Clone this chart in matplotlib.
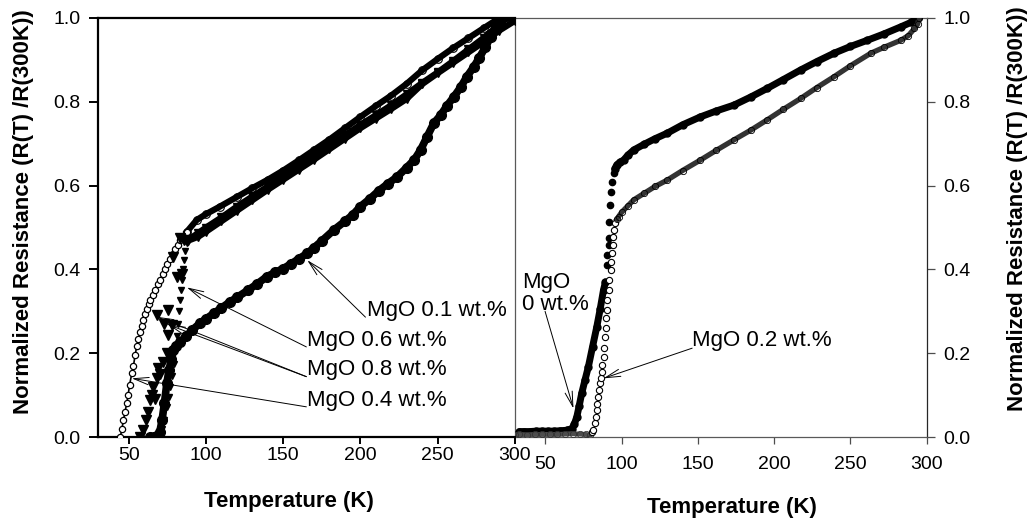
import numpy as np
import matplotlib
matplotlib.use('Agg')
import matplotlib.pyplot as plt

plt.rcParams['font.family'] = ['Liberation Sans', 'DejaVu Sans']

# ---- left panel ----
# MgO 0.4 wt.% (open circles)
t04_tr = [44.5, 45.5, 46.5, 47.5, 48.6, 49.5, 50.5, 51.9, 53, 54, 55.1, 56.2, 57.3, 58.4,
          59.4, 60.5, 61.7, 62.8, 63.8, 65.5, 67, 68.6, 70.2, 71.8, 73.5, 75, 76.7, 78.3,
          80, 81.6, 83.2, 85.4, 87.6]
r04_tr = [0.0, 0.02, 0.04, 0.06, 0.08, 0.1, 0.125, 0.152, 0.17, 0.195, 0.216, 0.233, 0.25,
          0.265, 0.279, 0.293, 0.306, 0.317, 0.327, 0.34, 0.352, 0.364, 0.375, 0.388, 0.40,
          0.413, 0.426, 0.437, 0.448, 0.459, 0.47, 0.48, 0.49]
t04_n = [87.6, 94, 100, 109, 120, 130, 140, 150, 160, 170, 180, 190, 200, 210, 220, 230,
         240, 250, 260, 270, 280, 288, 300]
r04_n = [0.49, 0.518, 0.532, 0.55, 0.573, 0.594, 0.614, 0.636, 0.66, 0.685, 0.71, 0.737,
         0.764, 0.79, 0.815, 0.843, 0.875, 0.902, 0.928, 0.952, 0.976, 0.995, 1.0]

# MgO 0.6 wt.% (small down triangles)
t06_tr = [66, 68, 69.5, 71.3, 73, 74.6, 75.7, 76.7, 77.8, 79, 80, 81, 82.1, 82.7, 83.2,
          83.8, 84.3, 84.9, 85.4, 86.5, 87.6, 89]
r06_tr = [0, 0.004, 0.01, 0.018, 0.04, 0.072, 0.095, 0.12, 0.145, 0.175, 0.208, 0.24, 0.27,
          0.3, 0.327, 0.35, 0.375, 0.4, 0.422, 0.445, 0.462, 0.472]
t06_n = [89, 95, 100, 110, 120, 130, 140, 150, 160, 170, 180, 190, 200, 210, 220, 230, 240,
         250, 260, 270, 280, 287, 293]
r06_n = [0.472, 0.487, 0.5, 0.524, 0.55, 0.574, 0.598, 0.622, 0.646, 0.67, 0.695, 0.72,
         0.745, 0.768, 0.792, 0.818, 0.845, 0.87, 0.897, 0.925, 0.953, 0.975, 1.0]

# MgO 0.8 wt.% (big down triangles)
t08_tr = [57, 59.4, 61, 62.5, 63.8, 65, 65.9, 67, 68, 69.1, 70, 72, 74.6, 73, 75.6, 77.8,
          75.6, 68.5, 81, 84.3, 78.9, 83.2, 86]
r08_tr = [0, 0.017, 0.04, 0.06, 0.088, 0.1, 0.12, 0.09, 0.14, 0.164, 0.15, 0.18, 0.2, 0.27,
          0.243, 0.267, 0.303, 0.29, 0.383, 0.39, 0.43, 0.474, 0.47]
t08_n = [88, 95, 100, 110, 120, 130, 140, 150, 160, 170, 180, 190, 200, 210, 220, 230, 240,
         250, 260, 270, 280, 290, 300]
r08_n = [0.468, 0.478, 0.49, 0.515, 0.54, 0.565, 0.59, 0.614, 0.638, 0.662, 0.687, 0.712,
         0.737, 0.76, 0.783, 0.807, 0.842, 0.868, 0.893, 0.918, 0.943, 0.97, 0.993]

# MgO 0.1 wt.% (big filled circles)
t01 = [64, 66, 68, 70, 71.5, 73, 74.6, 76, 77.5, 78.9, 80.5, 83.2, 87, 91, 96.2, 100, 105,
       110, 115.7, 120, 127, 133, 139.5, 145, 150, 155, 160, 165.5, 170, 175, 182.8, 190,
       195, 200, 206, 212, 218, 223.9, 230, 235, 239, 243, 247.6, 252, 256, 260.6, 265, 269,
       273.6, 277, 281, 284.4, 288, 290.9]
r01 = [0, 0.0, 0.003, 0.012, 0.04, 0.08, 0.128, 0.16, 0.185, 0.207, 0.218, 0.227, 0.24,
       0.255, 0.272, 0.282, 0.295, 0.308, 0.323, 0.333, 0.35, 0.365, 0.383, 0.393, 0.402,
       0.413, 0.425, 0.438, 0.452, 0.468, 0.494, 0.515, 0.53, 0.55, 0.568, 0.588, 0.605,
       0.621, 0.643, 0.662, 0.685, 0.715, 0.749, 0.768, 0.79, 0.812, 0.835, 0.86, 0.884,
       0.905, 0.93, 0.955, 0.978, 0.995]

# ---- right panel ----
# MgO 0 wt.% (filled circles)
t0_low = [33, 36, 40, 44, 48, 52, 56, 60, 64, 67.4, 69, 70.7, 72.3, 73.9, 76, 78.3, 81,
          83.8, 86, 88.2, 89.5]
r0_low = [0.013, 0.013, 0.013, 0.014, 0.014, 0.014, 0.014, 0.015, 0.016, 0.02, 0.03, 0.048,
          0.075, 0.104, 0.135, 0.168, 0.215, 0.263, 0.305, 0.351, 0.37]
t0_jump = [90.4, 90.8, 91.5, 92.1, 91.7, 92.6, 93.2, 93.7, 94.8]
r0_jump = [0.41, 0.434, 0.458, 0.474, 0.514, 0.554, 0.585, 0.609, 0.629]
t0_norm = [95.5, 97, 99, 101.4, 104, 108, 115, 122, 129.9, 140, 151.7, 162, 173.6, 185,
           195.5, 206, 217.4, 228, 239.3, 250, 261.2, 272, 283.1, 290, 294]
r0_norm = [0.64, 0.65, 0.656, 0.661, 0.672, 0.685, 0.699, 0.712, 0.725, 0.745, 0.764,
           0.778, 0.792, 0.812, 0.832, 0.853, 0.876, 0.896, 0.916, 0.932, 0.947, 0.962,
           0.979, 0.99, 1.0]

# MgO 0.2 wt.% (open circles)
t02_low = [30, 33, 38, 43, 48, 53, 58, 63, 68, 73, 77, 79.6]
r02_low = [0.005, 0.006, 0.005, 0.006, 0.006, 0.006, 0.006, 0.007, 0.008, 0.007, 0.006, 0.004]
t02_jump = [80.6, 81.6, 82.7, 83.3, 83.8, 84.2, 84.9, 85.5, 86.0, 86.4, 87.1, 87.5, 88.2,
            88.6, 89.3, 89.7, 89.9, 90.4, 90.8, 91.5, 92.1, 92.8, 93.3, 93.7, 94.1, 94.6,
            95.2, 96.0]
r02_jump = [0.011, 0.017, 0.033, 0.048, 0.064, 0.079, 0.096, 0.112, 0.128, 0.14, 0.156,
            0.172, 0.192, 0.212, 0.239, 0.259, 0.283, 0.303, 0.327, 0.351, 0.375, 0.399,
            0.418, 0.438, 0.458, 0.478, 0.494, 0.51]
t02_norm = [97, 98.1, 100, 104, 108, 115, 122, 129.9, 140, 151.7, 162, 173.6, 185, 195.5,
            206, 217.4, 228, 239.3, 250, 263.4, 272, 283.1, 288, 292, 294, 295]
r02_norm = [0.52, 0.526, 0.536, 0.551, 0.566, 0.582, 0.598, 0.613, 0.636, 0.661, 0.684,
            0.709, 0.733, 0.757, 0.782, 0.808, 0.834, 0.86, 0.886, 0.916, 0.93, 0.947,
            0.958, 0.975, 0.985, 1.0]

x_ticks = [50, 100, 150, 200, 250, 300]
y_ticks = [0.0, 0.2, 0.4, 0.6, 0.8, 1.0]
y_label = 'Normalized Resistance (R(T) /R(300K))'
x_label = 'Temperature (K)'


def arrow(ax, head, tail):
    ax.annotate('', xy=head, xytext=tail,
                arrowprops=dict(arrowstyle='->,head_length=0.9,head_width=0.22',
                                lw=0.7, color='black', shrinkA=0, shrinkB=0,
                                mutation_scale=12))


fig = plt.figure(figsize=(10.3, 5.23), dpi=100)
ax1 = fig.add_axes([98 / 1030, 86 / 523, 416.7 / 1030, 419 / 523])
ax2 = fig.add_axes([514.7 / 1030, 86 / 523, 412 / 1030, 419 / 523])

# left panel curves
ax1.plot(t01, r01, color='k', lw=5.5, solid_capstyle='round', zorder=3)
ax1.plot(t01, r01, ls='none', marker='o', ms=7, color='k', zorder=3)
ax1.plot(t04_n, r04_n, color='k', lw=4.5, zorder=3)
ax1.plot(t04_n, r04_n, ls='none', marker='o', ms=5.5, mfc='none', mec='k', mew=0.8, zorder=3)
ax1.plot(t06_n, r06_n, color='k', lw=4.5, zorder=3)
ax1.plot(t06_n, r06_n, ls='none', marker='v', ms=5.5, color='k', zorder=3)
ax1.plot(t08_n, r08_n, color='k', lw=4.5, zorder=3)
ax1.plot(t08_n, r08_n, ls='none', marker='v', ms=6, color='k', zorder=3)
ax1.plot(t04_tr, r04_tr, color='k', lw=1.2, zorder=4)
ax1.plot(t04_tr, r04_tr, ls='none', marker='o', ms=4.5, mfc='white', mec='k', mew=0.9, zorder=4)
ax1.plot(t06_tr, r06_tr, ls='none', marker='v', ms=4.5, color='k', zorder=4)
ax1.plot(t08_tr, r08_tr, ls='none', marker='v', ms=6.5, color='k', zorder=4)

# right panel curves
ax2.plot(t0_low, r0_low, color='k', lw=5, solid_capstyle='round', zorder=3)
ax2.plot(t0_low, r0_low, ls='none', marker='o', ms=5, color='k', zorder=3)
ax2.plot(t0_jump, r0_jump, ls='none', marker='o', ms=4.5, color='k', zorder=3)
ax2.plot(t0_norm, r0_norm, color='k', lw=5, solid_capstyle='round', zorder=3)
ax2.plot(t0_norm, r0_norm, ls='none', marker='o', ms=5, color='k', zorder=3)
ax2.plot(t02_low, r02_low, color='0.3', lw=3.5, zorder=4)
ax2.plot(t02_low, r02_low, ls='none', marker='o', ms=4.5, mfc='none', mec='0.2', mew=0.6, zorder=4)
ax2.plot(t02_jump, r02_jump, ls='none', marker='o', ms=4.5, mfc='white', mec='k', mew=0.8, zorder=4)
ax2.plot(t02_norm, r02_norm, color='0.2', lw=3.8, zorder=4)
ax2.plot(t02_norm, r02_norm, ls='none', marker='o', ms=4.5, mfc='none', mec='k', mew=0.6, zorder=4)

for ax in (ax1, ax2):
    ax.set_xlim(30, 300)
    ax.set_ylim(0, 1.0)
    ax.set_xticks(x_ticks)
    ax.set_yticks(y_ticks)
    ax.set_yticklabels(['%.1f' % v for v in y_ticks])
    ax.tick_params(labelsize=14)
    for sp in ax.spines.values():
        sp.set_clip_on(False)

# left panel frame
for s in ('left', 'bottom', 'top'):
    ax1.spines[s].set_linewidth(1.6)
    ax1.spines[s].set_color('black')
ax1.spines['right'].set_visible(False)
ax1.tick_params(axis='x', direction='out', length=5, width=1.4, pad=2.5)
ax1.tick_params(axis='y', direction='out', length=6.5, width=1.4, pad=6)

# right panel frame
for s in ('left', 'bottom', 'top', 'right'):
    ax2.spines[s].set_linewidth(0.9)
    ax2.spines[s].set_color('0.35')
ax2.spines['right'].set_color('0.15')
ax2.yaxis.tick_right()
ax2.tick_params(axis='x', direction='out', length=5, width=0.9, color='0.3', pad=8.5)
ax2.tick_params(axis='y', direction='out', length=6, width=0.9, color='0.3', pad=6,
                labelsize=14)
ax2.set_zorder(0)
ax1.set_zorder(1)
ax1.patch.set_alpha(0)

# annotations
ax1.text(204.4, 0.303, 'MgO 0.1 wt.%', fontsize=16, ha='left', va='center')
arrow(ax1, (165.6, 0.422), (203.3, 0.286))
ax1.text(165.4, 0.231, 'MgO 0.6 wt.%', fontsize=16, ha='left', va='center')
arrow(ax1, (87.6, 0.357), (165.0, 0.215))
ax1.text(165.4, 0.160, 'MgO 0.8 wt.%', fontsize=16, ha='left', va='center')
arrow(ax1, (68.1, 0.287), (165.0, 0.144))
arrow(ax1, (75.5, 0.268), (165.0, 0.144))
ax1.text(165.4, 0.088, 'MgO 0.4 wt.%', fontsize=16, ha='left', va='center')
arrow(ax1, (51.9, 0.140), (165.0, 0.072))

ax2.text(34.6, 0.343, 'MgO\n0 wt.%', fontsize=16, ha='left', va='center', linespacing=1.05)
arrow(ax2, (68.5, 0.068), (49.9, 0.300))
ax2.text(146.3, 0.231, 'MgO 0.2 wt.%', fontsize=16, ha='left', va='center')
arrow(ax2, (88.2, 0.140), (146.3, 0.212))

# axis titles
fig.text(24 / 1030, 1 - 212 / 523, y_label, rotation=90, fontsize=16, fontweight='bold',
         ha='center', va='center')
fig.text(1017 / 1030, 1 - 209 / 523, y_label, rotation=90, fontsize=16, fontweight='bold',
         ha='center', va='center')
fig.text(289 / 1030, 1 - 501 / 523, x_label, fontsize=16, fontweight='bold',
         ha='center', va='center')
fig.text(732 / 1030, 1 - 508 / 523, x_label, fontsize=16, fontweight='bold',
         ha='center', va='center')

fig.savefig('out.png', dpi=100)
